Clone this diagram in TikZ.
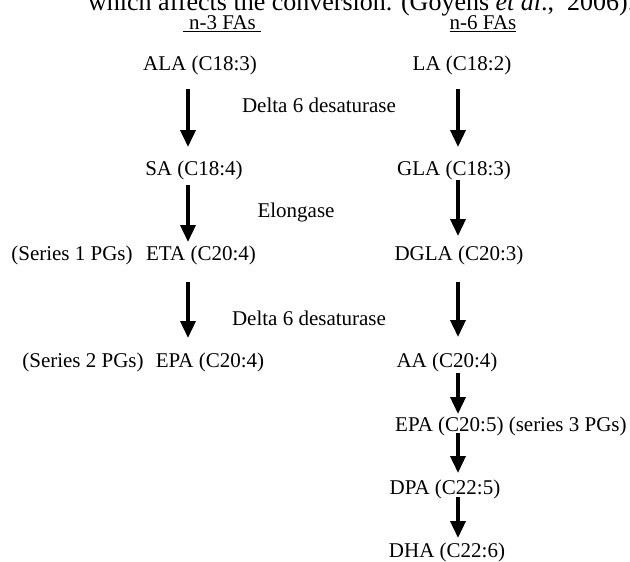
\documentclass[tikz,border=0pt]{standalone}
\usepackage{fontspec}
\setmainfont{Liberation Serif}
\usetikzlibrary{arrows.meta}
\begin{document}
\begin{tikzpicture}[x=1pt,y=-1pt,
  lbl/.style={inner sep=0pt, font=\fontsize{21}{24}\selectfont},
  arr/.style={line width=3.6pt, -{Triangle[width=15pt,length=17pt]}}]
\useasboundingbox (0,0) rectangle (630,562);
\clip (0,0) rectangle (630,562);
% top partial caption line
\node[inner sep=0pt, anchor=base west, font=\fontsize{26}{30}\selectfont] (cap) at (88,10)
  {which affects the conversion. (Goyens \textit{et al}.,\ \ 2006).};
% headings
\node[lbl, anchor=base] (n3) at (222,30) {\underline{\hspace{6pt}n-3 FAs\hspace{5pt}}};
\node[lbl, anchor=base] (n6) at (483,30) {\underline{n-6 FAs}};
% n-3 column
\node[lbl] (ala) at (200,65) {ALA (C18:3)};
\node[lbl] (sa) at (194,170) {SA (C18:4)};
\node[lbl] (eta) at (201,255) {ETA (C20:4)};
\node[lbl] (s1) at (72,255) {(Series 1 PGs)};
\node[lbl] (epa4) at (210,362) {EPA (C20:4)};
\node[lbl] (s2) at (83,362) {(Series 2 PGs)};
% enzymes
\node[lbl] (d6a) at (319,105) {Delta 6 desaturase};
\node[lbl] (elo) at (296,212) {Elongase};
\node[lbl] (d6b) at (309,318) {Delta 6 desaturase};
% n-6 column
\node[lbl] (la) at (462,65) {LA (C18:2)};
\node[lbl] (gla) at (454,170) {GLA (C18:3)};
\node[lbl] (dgla) at (459,255) {DGLA (C20:3)};
\node[lbl] (aa) at (447,362) {AA (C20:4)};
\node[lbl, anchor=west] (epa5) at (395,426) {EPA (C20:5) (series 3 PGs)};
\node[lbl] (dpa) at (445,489) {DPA (C22:5)};
\node[lbl] (dha) at (447,552) {DHA (C22:6)};
% arrow end points
\coordinate (l1s) at (188,89);  \coordinate (l1e) at (188,147);
\coordinate (l2s) at (188,185); \coordinate (l2e) at (188,242);
\coordinate (l3s) at (188,282); \coordinate (l3e) at (188,338);
\coordinate (r1s) at (458,89);  \coordinate (r1e) at (458,147);
\coordinate (r2s) at (458,180); \coordinate (r2e) at (458,236);
\coordinate (r3s) at (458,282); \coordinate (r3e) at (458,337);
\coordinate (r4s) at (458,373); \coordinate (r4e) at (458,414);
\coordinate (r5s) at (458,433); \coordinate (r5e) at (458,473);
\coordinate (r6s) at (458,497); \coordinate (r6e) at (458,538);
\draw[arr] (l1s) -- (l1e);
\draw[arr] (l2s) -- (l2e);
\draw[arr] (l3s) -- (l3e);
\draw[arr] (r1s) -- (r1e);
\draw[arr] (r2s) -- (r2e);
\draw[arr] (r3s) -- (r3e);
\draw[arr] (r4s) -- (r4e);
\draw[arr] (r5s) -- (r5e);
\draw[arr] (r6s) -- (r6e);
\end{tikzpicture}
\end{document}
